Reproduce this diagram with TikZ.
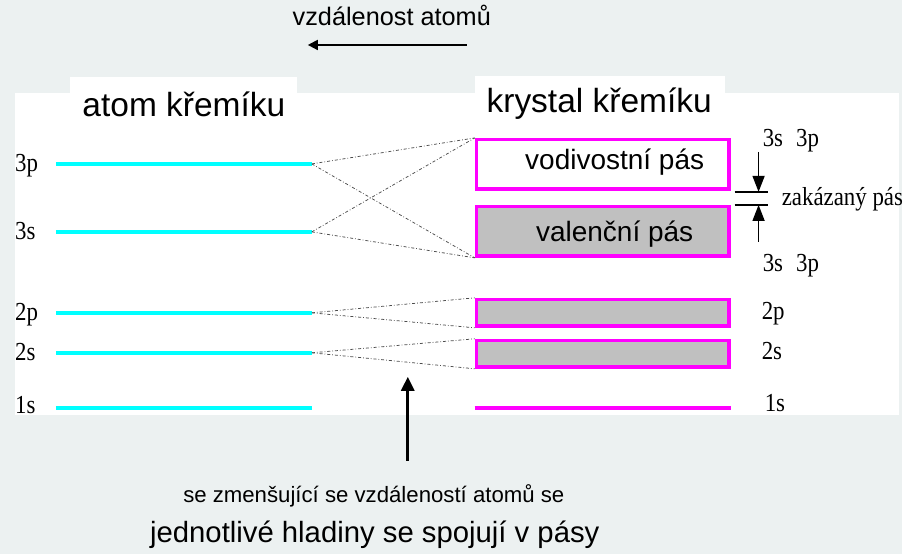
\documentclass[tikz,border=0pt]{standalone}
\usepackage{fontspec}
\setmainfont{Liberation Sans}
\newfontfamily\serifnum[FakeStretch=0.88]{Liberation Serif}
\usetikzlibrary{arrows.meta}
\definecolor{pagebg}{HTML}{ECF1F1}
\definecolor{levelcyan}{HTML}{00FFFF}
\definecolor{bandmag}{HTML}{FF00FF}
\definecolor{bandgray}{HTML}{C0C0C0}

\begin{document}
\begin{tikzpicture}[x=1pt,y=-1pt,
  level/.style={draw=levelcyan, line width=4pt},
  band/.style={draw=bandmag, line width=3.5pt, minimum width=252.5pt, inner sep=0pt},
  fullband/.style={band, fill=bandgray},
  split/.style={draw=black!70, line width=0.75pt, dash dot},
  lbl/.style={font=\serifnum\fontsize{26}{26}\selectfont, anchor=base west, inner sep=0pt},
  title/.style={font=\fontsize{33.5}{36}\selectfont, anchor=base, inner sep=0pt},
  bandtext/.style={font=\fontsize{28}{30}\selectfont, anchor=base, inner sep=0pt},
  gapmark/.style={line width=1.5pt, -{Triangle[width=12pt,length=16pt]}},
  tick/.style={line width=2pt}
]
% page and drawing area
\fill[pagebg] (0,0) rectangle (903,554);
\fill[white] (15,93) rectangle (900,415);
\fill[white] (70,77) rectangle (297,130);
\fill[white] (475,76) rectangle (725,130);

% distance arrow
\node[font=\fontsize{25.3}{27}\selectfont, anchor=base, inner sep=0pt] (dist) at (392,26) {vzdálenost atomů};
\coordinate (distR) at (467,45);
\coordinate (distL) at (308,45);
\draw[line width=1.8pt, -{Triangle[width=10pt,length=10pt]}] (distR) -- (distL);

% titles
\node[title] (tatom) at (184,117) {atom křemíku};
\node[title] (tcryst) at (599.5,113) {krystal křemíku};

% atomic levels
\foreach \n/\y in {3p/164, 3s/232, 2p/313, 2s/353, 1s/408}{
  \coordinate (w\n) at (56,\y);
  \coordinate (a\n) at (312,\y);
  \draw[level] (w\n) -- (a\n);
}
\node[lbl] (l3p) at (15,172) {3p};
\node[lbl] (l3s) at (15,240) {3s};
\node[lbl] (l2p) at (15,321) {2p};
\node[lbl] (l2s) at (15,361) {2s};
\node[lbl] (l1s) at (15,414) {1s};

% crystal bands
\node[band, minimum height=49.5pt] (cb) at (603,164.5) {};
\node[fullband, minimum height=49.5pt] (vb) at (603,231.5) {};
\node[fullband, minimum height=26.5pt] (b2p) at (603,313) {};
\node[fullband, minimum height=26.5pt] (b2s) at (603,354) {};
\coordinate (c1sw) at (475,408);
\coordinate (c1se) at (731,408);
\draw[draw=bandmag, line width=4pt] (c1sw) -- (c1se);

\node[bandtext] (tcb) at (615,170) {vodivostní pás};
\node[bandtext] (tvb) at (615,242) {valenční pás};

% splitting of levels into bands
\draw[split] (a3p) -- (cb.north west);
\draw[split] (a3p) -- (vb.south west);
\draw[split] (a3s) -- (cb.north west);
\draw[split] (a3s) -- (vb.south west);
\draw[split] (a2p) -- (b2p.north west);
\draw[split] (a2p) -- (b2p.south west);
\draw[split] (a2s) -- (b2s.north west);
\draw[split] (a2s) -- (b2s.south west);

% band labels on the right
\node[lbl] (r3top) at (763,147) {3s\enspace 3p};
\node[lbl] (r3bot) at (763,272) {3s\enspace 3p};
\node[lbl] (r2p) at (762,320) {2p};
\node[lbl] (r2s) at (762,360) {2s};
\node[lbl] (r1s) at (765,412) {1s};

% forbidden gap marker
\coordinate (gtL) at (735,192);
\coordinate (gtR) at (768,192);
\coordinate (gbL) at (735,205);
\coordinate (gbR) at (768,205);
\draw[tick] (gtL) -- (gtR);
\draw[tick] (gbL) -- (gbR);
\coordinate (gtS) at (759,152);
\coordinate (gtE) at (759,192);
\coordinate (gbS) at (759,242);
\coordinate (gbE) at (759,205);
\draw[gapmark] (gtS) -- (gtE);
\draw[gapmark] (gbS) -- (gbE);
\node[lbl] (gap) at (782,206) {zakázaný pás};

% explanation
\coordinate (expS) at (408,461);
\coordinate (expE) at (408,377);
\draw[line width=3pt, -{Triangle[width=13pt,length=14pt]}] (expS) -- (expE);
\node[font=\fontsize{22.2}{24}\selectfont, anchor=base, inner sep=0pt] (exp1) at (374,503) {se zmenšující se vzdáleností atomů se};
\node[font=\fontsize{29.3}{31}\selectfont, anchor=base, inner sep=0pt] (exp2) at (375,543) {jednotlivé hladiny se spojují v pásy};
\end{tikzpicture}
\end{document}
